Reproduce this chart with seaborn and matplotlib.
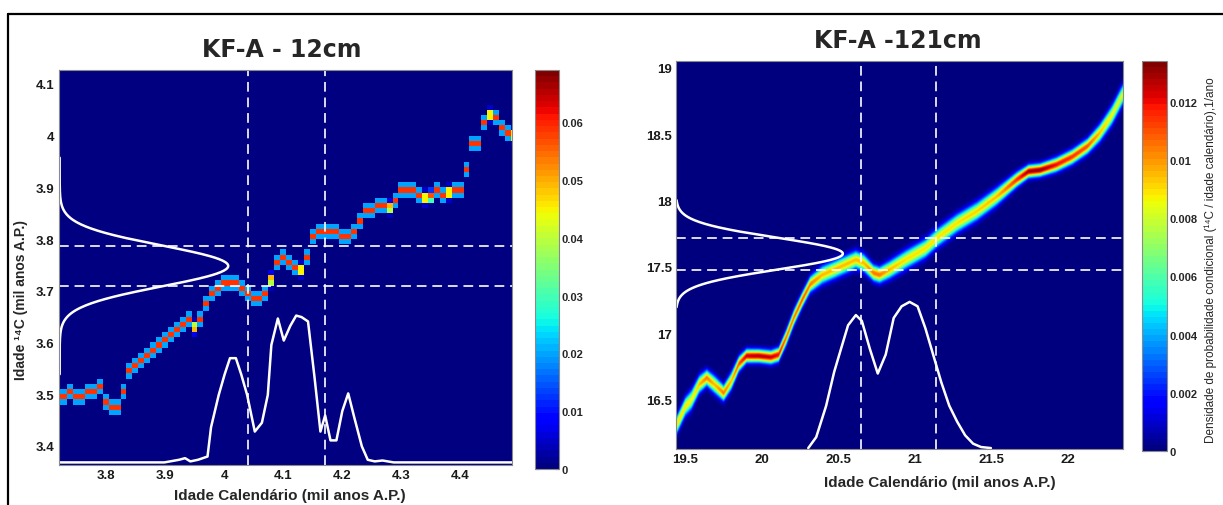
import numpy as np
import matplotlib
matplotlib.use('Agg')
import matplotlib.pyplot as plt
from matplotlib import font_manager
from matplotlib.lines import Line2D
import seaborn as sns

# ---------------- KF-A 12 cm ----------------
# calibration curve, one value per calendar column (3.72 .. 4.49, step 0.01 kyr)
left_cal_start = 3.72
left_cal_step = 0.01
left_curve_c14 = [3.495, 3.495, 3.505, 3.495, 3.495, 3.505, 3.505, 3.515, 3.485, 3.475,
                  3.475, 3.505, 3.545, 3.555, 3.565, 3.575, 3.585, 3.595, 3.605, 3.615,
                  3.625, 3.635, 3.645, 3.629, 3.645, 3.675, 3.695, 3.705, 3.715, 3.715,
                  3.715, 3.705, 3.695, 3.685, 3.685, 3.695, 3.721, 3.755, 3.765, 3.755,
                  3.745, 3.740, 3.765, 3.805, 3.815, 3.815, 3.815, 3.815, 3.805, 3.805,
                  3.815, 3.835, 3.855, 3.855, 3.865, 3.865, 3.861, 3.875, 3.895, 3.895,
                  3.895, 3.885, 3.880, 3.883, 3.895, 3.885, 3.890, 3.895, 3.895, 3.935,
                  3.985, 3.985, 4.025, 4.040, 4.035, 4.015, 4.005, 4.000]
left_curve_sd = 0.0068
left_c14_mean = 3.748
left_c14_sd = 0.0395
left_post_age = [3.720, 3.899, 3.924, 3.934, 3.943, 3.956, 3.972, 3.978, 3.991, 4.001,
                 4.010, 4.020, 4.029, 4.039, 4.052, 4.064, 4.074, 4.080, 4.091, 4.101,
                 4.112, 4.122, 4.131, 4.142, 4.153, 4.163, 4.171, 4.180, 4.190, 4.200,
                 4.210, 4.220, 4.233, 4.243, 4.255, 4.268, 4.287, 4.490]
left_post_dens = [0.0, 0.0, 0.018, 0.029, 0.007, 0.018, 0.04, 0.24, 0.46, 0.60,
                  0.71, 0.71, 0.60, 0.46, 0.21, 0.27, 0.46, 0.80, 0.98, 0.83,
                  0.93, 1.0, 0.99, 0.96, 0.58, 0.21, 0.32, 0.15, 0.15, 0.35,
                  0.47, 0.31, 0.11, 0.018, 0.007, 0.013, 0.0, 0.0]
left_cal_range = [4.04, 4.17]

# ---------------- KF-A 121 cm ----------------
right_curve_age = [19.435, 19.50, 19.54, 19.59, 19.64, 19.69, 19.75, 19.80, 19.85, 19.90,
                   19.98, 20.06, 20.11, 20.16, 20.21, 20.265, 20.317, 20.395, 20.473, 20.55,
                   20.615, 20.667, 20.73, 20.77, 20.836, 20.94, 21.07, 21.147, 21.277, 21.407,
                   21.536, 21.666, 21.744, 21.82, 21.925, 22.03, 22.13, 22.21, 22.29, 22.36]
right_curve_c14 = [16.29, 16.45, 16.50, 16.615, 16.665, 16.615, 16.55, 16.64, 16.77, 16.83,
                   16.83, 16.82, 16.84, 16.97, 17.12, 17.255, 17.37, 17.44, 17.48, 17.52,
                   17.555, 17.53, 17.455, 17.44, 17.48, 17.555, 17.64, 17.72, 17.83, 17.92,
                   18.03, 18.157, 18.22, 18.23, 18.27, 18.33, 18.41, 18.51, 18.645, 18.80]
right_curve_peak = [0.0090, 0.0090, 0.0085, 0.0095, 0.0105, 0.0095, 0.0105, 0.0095, 0.0110, 0.0125,
                    0.0128, 0.0125, 0.0120, 0.0105, 0.0105, 0.0110, 0.0105, 0.0095, 0.0095, 0.0095,
                    0.0095, 0.0095, 0.0105, 0.0105, 0.0095, 0.0090, 0.0090, 0.0090, 0.0090, 0.0092,
                    0.0095, 0.0115, 0.0130, 0.0132, 0.0120, 0.0115, 0.0110, 0.0095, 0.0085, 0.0080]
right_c14_mean = 17.60
right_c14_sd = 0.12
right_post_age = [20.304, 20.356, 20.421, 20.473, 20.512, 20.564, 20.615, 20.654, 20.706, 20.758,
                  20.810, 20.862, 20.914, 20.966, 21.018, 21.069, 21.121, 21.173, 21.225, 21.277,
                  21.329, 21.381, 21.433, 21.497]
right_post_dens = [0.0, 0.075, 0.29, 0.52, 0.658, 0.84, 0.91, 0.87, 0.68, 0.51,
                   0.64, 0.89, 0.97, 1.0, 0.97, 0.82, 0.635, 0.45, 0.29, 0.18,
                   0.087, 0.03, 0.007, 0.0]
right_cal_range = [20.65, 21.14]

sns.set_style('white')
names = {f.name for f in font_manager.fontManager.ttflist}
base_font = 'Liberation Sans Narrow' if 'Liberation Sans Narrow' in names else 'Liberation Sans'
plt.rcParams['font.family'] = [base_font, 'DejaVu Sans']

W, H = 1223, 506
fig = plt.figure(figsize=(W / 100, H / 100), dpi=100)
jet = plt.get_cmap('jet', 64)   # matlab style 64 level jet


def box(x0, y0, x1, y1):
    return [x0 / W, 1 - y1 / H, (x1 - x0) / W, (y1 - y0) / H]


def norm_pdf(y, mu, sd):
    return np.exp(-0.5 * ((y - mu) / sd) ** 2) / (sd * np.sqrt(2 * np.pi))


def style_axes(ax):
    for s in ax.spines.values():
        s.set_color('#8a8a8a')
        s.set_linewidth(0.8)
    ax.tick_params(direction='in', length=3, width=0.8, color='#222222',
                   labelsize=9.5, pad=3)
    for lab in ax.get_xticklabels() + ax.get_yticklabels():
        lab.set_fontweight('bold')
        lab.set_color('#1a1a1a')


def style_cbar(cb, ticks, labels):
    cb.outline.set_edgecolor('#8a8a8a')
    cax = cb.ax
    cax.set_yticks(ticks)
    cax.set_yticklabels(labels)
    cax.tick_params(direction='in', length=3, width=0.8, left=True, right=True,
                    labelsize=8, color='#222222', pad=2)
    for lab in cax.get_yticklabels():
        lab.set_fontweight('bold')


dash_kw = dict(color='white', alpha=0.85, lw=1.4, dashes=(5, 3))

# ---------------- left panel ----------------
ax1 = fig.add_axes(box(58.5, 71, 512, 466))
cal_c = left_cal_start + left_cal_step * np.arange(len(left_curve_c14))
cal_edges = np.append(cal_c - left_cal_step / 2, cal_c[-1] + left_cal_step / 2)
c14_edges = np.arange(3.36, 4.1401, 0.01)
c14_c = (c14_edges[:-1] + c14_edges[1:]) / 2
dens1 = norm_pdf(c14_c[:, None], np.array(left_curve_c14)[None, :], left_curve_sd) / 1000
m1 = ax1.pcolormesh(cal_edges, c14_edges, dens1, cmap=jet, vmin=0, vmax=0.069,
                    shading='flat', rasterized=True)
ax1.set_xlim(3.72, 4.487)
ax1.set_ylim(3.363, 4.127)
for v in left_cal_range:
    ax1.axvline(v, **dash_kw)
for h in (left_c14_mean - left_c14_sd, left_c14_mean + left_c14_sd):
    ax1.axhline(h, **dash_kw)

yy = np.linspace(left_c14_mean - 5.3 * left_c14_sd, left_c14_mean + 5.3 * left_c14_sd, 300)
g = norm_pdf(yy, left_c14_mean, left_c14_sd)
sns.lineplot(x=3.722 + 0.285 * g / g.max(), y=yy, sort=False, estimator=None,
             color='white', lw=1.8, ax=ax1)
sns.lineplot(x=left_post_age, y=3.368 + 0.284 * np.array(left_post_dens), sort=False,
             estimator=None, color='white', lw=1.8, ax=ax1)
ax1.set_xticks([3.8, 3.9, 4.0, 4.1, 4.2, 4.3, 4.4])
ax1.set_xticklabels(['3.8', '3.9', '4', '4.1', '4.2', '4.3', '4.4'])
ax1.set_yticks([3.4, 3.5, 3.6, 3.7, 3.8, 3.9, 4.0, 4.1])
ax1.set_yticklabels(['3.4', '3.5', '3.6', '3.7', '3.8', '3.9', '4', '4.1'])
ax1.set_xlabel('')
ax1.set_ylabel('')
style_axes(ax1)

cax1 = fig.add_axes(box(535, 71, 559, 470))
cb1 = fig.colorbar(m1, cax=cax1)
style_cbar(cb1, [0, 0.01, 0.02, 0.03, 0.04, 0.05, 0.06],
           ['0', '0.01', '0.02', '0.03', '0.04', '0.05', '0.06'])

# ---------------- right panel ----------------
ax2 = fig.add_axes(box(676, 62, 1123, 450))
xf = np.linspace(19.43, 22.37, 900)
yf = np.linspace(16.12, 19.06, 900)
mu = np.interp(xf, right_curve_age, right_curve_c14)
pk = np.interp(xf, right_curve_age, right_curve_peak)
sd = 1.0 / (pk * np.sqrt(2 * np.pi) * 1000)
dens2 = pk[None, :] * np.exp(-0.5 * ((yf[:, None] - mu[None, :]) / sd[None, :]) ** 2)
m2 = ax2.imshow(dens2, origin='lower', extent=(xf[0], xf[-1], yf[0], yf[-1]),
                aspect='auto', cmap=jet, vmin=0, vmax=0.0134, interpolation='bilinear')
ax2.set_xlim(19.44, 22.36)
ax2.set_ylim(16.13, 19.05)
for v in right_cal_range:
    ax2.axvline(v, **dash_kw)
for h in (right_c14_mean - right_c14_sd, right_c14_mean + right_c14_sd):
    ax2.axhline(h, **dash_kw)

yy = np.linspace(right_c14_mean - 3.35 * right_c14_sd, right_c14_mean + 3.35 * right_c14_sd, 300)
g = norm_pdf(yy, right_c14_mean, right_c14_sd)
sns.lineplot(x=19.44 + 1.09 * g / g.max(), y=yy, sort=False, estimator=None,
             color='white', lw=1.8, ax=ax2)
sns.lineplot(x=right_post_age, y=16.137 + 1.10 * np.array(right_post_dens), sort=False,
             estimator=None, color='white', lw=1.8, ax=ax2)
ax2.set_xticks([19.5, 20, 20.5, 21, 21.5, 22])
ax2.set_xticklabels(['19.5', '20', '20.5', '21', '21.5', '22'])
ax2.set_yticks([16.5, 17, 17.5, 18, 18.5, 19])
ax2.set_yticklabels(['16.5', '17', '17.5', '18', '18.5', '19'])
ax2.set_xlabel('')
ax2.set_ylabel('')
style_axes(ax2)

cax2 = fig.add_axes(box(1142, 62, 1167, 452))
cb2 = fig.colorbar(m2, cax=cax2)
style_cbar(cb2, [0, 0.002, 0.004, 0.006, 0.008, 0.01, 0.012],
           ['0', '0.002', '0.004', '0.006', '0.008', '0.01', '0.012'])

# ---------------- texts ----------------
title_font = ['DejaVu Sans']
fig.text(282 / W, 1 - 50 / H, 'KF-A - 12cm', ha='center', va='center',
         fontsize=17, fontweight='bold', family=title_font)
fig.text(898 / W, 1 - 41 / H, 'KF-A -121cm', ha='center', va='center',
         fontsize=17, fontweight='bold', family=title_font)
fig.text(290 / W, 1 - 496 / H, 'Idade Calendário (mil anos A.P.)', ha='center',
         va='center', fontsize=11, fontweight='bold')
fig.text(940 / W, 1 - 483 / H, 'Idade Calendário (mil anos A.P.)', ha='center',
         va='center', fontsize=11, fontweight='bold')
fig.text(21 / W, 1 - 300 / H, 'Idade \u00b9\u2074C (mil anos A.P.)', ha='center',
         va='center', rotation=90, fontsize=10, fontweight='bold')
fig.text(1211 / W, 1 - 260 / H,
         'Densidade de probabilidade condicional (\u00b9\u2074C / idade calendário),1/ano',
         ha='center', va='center', rotation=90, fontsize=8.5)

# outer frame lines
fig.add_artist(Line2D([8 / W, 1], [1 - 15 / H, 1 - 15 / H], color='black', lw=1.6))
fig.add_artist(Line2D([8 / W, 8 / W], [0, 1 - 15 / H], color='black', lw=1.6))

fig.savefig('out.png', dpi=100)
